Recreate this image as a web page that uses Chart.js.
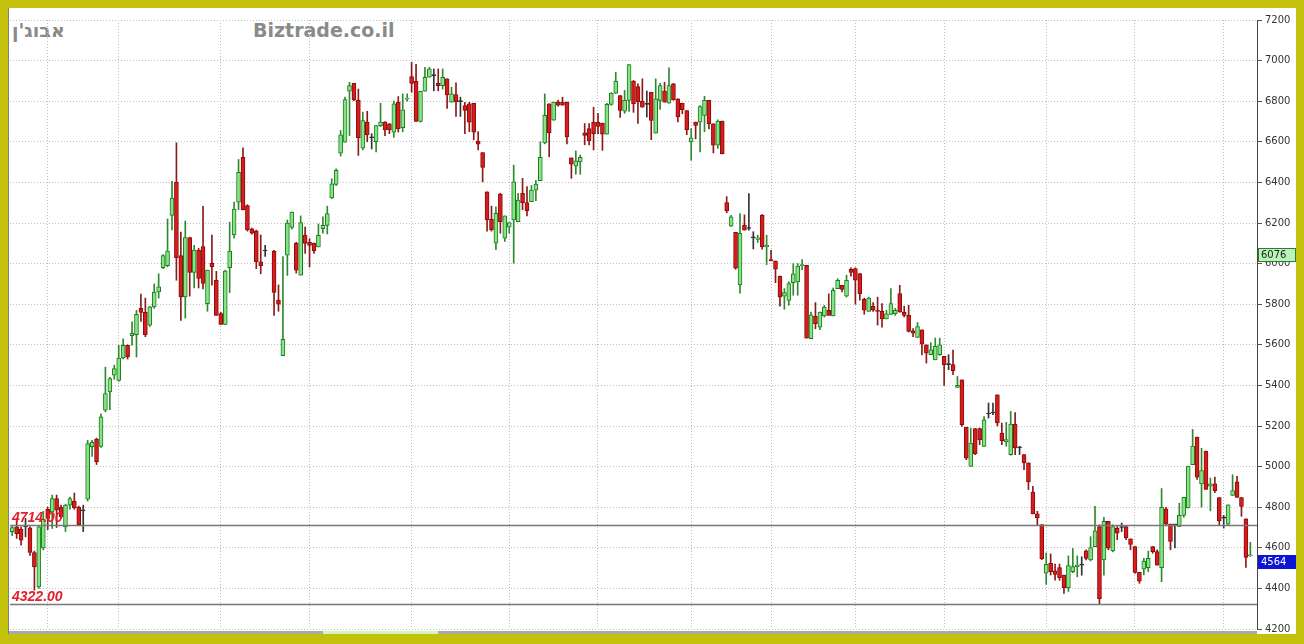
<!DOCTYPE html>
<html>
<head>
<meta charset="utf-8">
<script src="https://cdn.jsdelivr.net/npm/chart.js"></script>
<style>
  html, body { margin: 0; padding: 0; }
  body { width: 1304px; height: 644px; background: #c3c10c; position: relative; overflow: hidden; }
  #panel { position: absolute; left: 8px; top: 8px; width: 1288px; height: 626px; background: #fff; }
  #edge { position: absolute; left: 8px; top: 8px; width: 1px; height: 626px; background: #808080; }
  #scroll { position: absolute; left: 9px; top: 631px; width: 1248px; height: 3px; background: #a9a9a9; }
  #thumb { position: absolute; left: 323px; top: 631px; width: 115px; height: 3px; background: #d4f5c0; }
  canvas { position: absolute; left: 0; top: 0; }
  .title { position: absolute; top: 19px; font: bold 19px "DejaVu Sans"; line-height: 22px; color: #8a8a8a; white-space: nowrap; }
</style>
</head>
<body>
<div id="panel"></div>
<div id="edge"></div>
<div id="scroll"></div>
<div id="thumb"></div>
<div class="title" style="left:12px" dir="rtl">אבוג'ן</div>
<div class="title" style="left:253px">Biztrade.co.il</div>
<canvas id="chart" width="1304" height="644"></canvas>
<script>
// daily candles (null = empty slot)
const opens = [
  4680,4703,4692,4703,4698,4577,4407,4600,4790,4777,
  4843,4800,4703,4810,4830,4800,4782,4840,5098,5135,
  5100,5278,5368,5450,5425,5535,5598,5645,5650,5780,
  5760,5697,5787,5860,5980,5990,6237,6402,6039,5836,
  6128,5957,6067,6084,5803,6001,5918,5754,5700,5980,
  6141,6303,6524,6286,6171,6161,6009,6062,null,6062,
  5820,5547,6042,6178,6100,5943,6141,6105,6101,6082,
  6172,6188,6324,6390,6544,6598,6849,6888,6806,6569,
  6697,6620,6601,6680,6697,6688,6647,6795,6669,6810,
  6921,6898,6700,6849,6918,6926,6888,6877,6910,6795,
  6833,6798,6779,6787,6790,6604,6547,6354,6218,6101,
  6343,6125,6179,6215,6207,6346,6300,6305,6362,6408,
  6594,6787,6706,6796,6796,6796,6521,6480,6501,6644,
  6665,6697,6697,6692,6637,6784,6840,6828,6751,6804,
  6899,6872,6799,6784,6844,6643,6804,6849,6790,6885,
  6812,6790,6754,6600,6697,6697,6730,6804,6689,6583,
  6702,6300,6185,6154,5895,6190,6173,6127,6119,6239,
  6082,6020,6013,5939,5840,5819,5906,5910,5990,5992,
  5630,5740,5687,5742,5770,5742,5877,5893,5840,5972,
  5975,5951,5824,5765,5791,5770,5765,5728,5750,5753,
  5852,5761,5745,5669,5636,5674,5600,5551,5526,5551,
  5543,5502,5502,5390,5428,5193,5001,5187,5187,5100,
  5259,5264,5354,5165,5121,5059,5210,5092,5059,5018,
  4875,4767,4714,4475,4523,4486,4502,4466,4403,4482,
  4507,4515,4585,4540,4606,4705,4540,4730,4585,4697,
  4700,4705,4644,4606,4479,4495,4502,4606,4581,4502,
  4792,4717,4713,4705,4760,4796,5010,5146,4915,5076,
  4903,4915,4848,4746,4717,4858,4925,4848,4743,4560,
  null
];
const highs = [
  4710,4745,4703,4745,4703,4584,4711,4780,4800,4860,
  4860,4810,4815,4850,4870,4805,4810,5130,5130,5140,
  5260,5490,5440,5500,5598,5630,5600,5713,5770,5850,
  5830,5790,5900,5950,6045,6220,6405,6595,6155,6210,
  6130,6090,6075,6282,5968,6141,5962,5760,5968,6204,
  6303,6513,6570,6290,6175,6165,6141,6090,null,6065,
  5895,6034,6215,6254,6105,6235,6180,6123,6101,6195,
  6230,6283,6418,6467,6656,6820,6893,6888,6860,6746,
  6750,6640,6680,6790,6700,6690,6800,6823,6836,6836,
  6992,6982,6849,6967,6967,6959,6959,6959,6910,6869,
  6890,6820,6795,6795,6790,6650,6547,6354,6283,6280,
  6346,6235,6202,6485,6346,6420,6380,6385,6410,6600,
  6836,6787,6796,6805,6820,6796,6521,6555,6535,6690,
  6690,6770,6740,6692,6790,6842,6943,6828,6853,6980,
  6902,6885,6910,6850,6844,6910,6888,6893,6964,6888,
  6812,6790,6754,6665,6697,6779,6824,6804,6689,6708,
  6702,6330,6238,6154,6246,6240,6345,6157,6140,6242,
  6140,6065,6013,5939,5877,5910,6000,6000,6020,5992,
  5761,5808,5761,5794,5851,5880,5926,5893,5943,5979,
  5979,5951,5830,5835,5808,5835,5803,5770,5877,5780,
  5893,5790,5795,5680,5710,5674,5600,5610,5633,5633,
  5543,5551,5574,5444,5428,5193,5190,5187,5190,5246,
  5313,5313,5354,5215,5218,5272,5266,5100,5059,5018,
  4903,4780,4714,4575,4570,4520,4520,4466,4560,4596,
  4560,4556,4590,4655,4804,4713,4750,4730,4713,4705,
  4722,4705,4644,4606,4479,4548,4584,4606,4590,4892,
  4799,4717,4713,4820,4849,5002,5183,5146,5090,5076,
  4944,4948,4848,4760,4812,4960,4952,4848,4743,4627,
  null
];
const lows = [
  4660,4646,4613,4654,4563,4391,4400,4590,4690,4695,
  4700,4745,4680,4790,4790,4714,4680,4830,5050,5010,
  5095,5270,5280,5430,5420,5530,5530,5598,5540,5715,
  5640,5690,5780,5830,5975,5985,6166,5918,5720,5732,
  5840,5880,5880,5875,5765,5894,5745,5700,5700,5857,
  6125,6265,6265,6160,6145,5975,5950,6035,null,5745,
  5765,5547,5942,6170,5953,5943,6050,5983,6050,6082,
  6150,6146,6320,6385,6530,6598,6631,6803,6533,6560,
  6600,6565,6550,6675,6630,6640,6622,6648,6650,6800,
  6844,6700,6697,6849,6918,6851,6851,6860,6765,6795,
  6725,6725,6640,6650,6610,6560,6403,6160,6160,6069,
  6150,6109,6150,6002,6207,6265,6235,6305,6310,6408,
  6590,6526,6706,6775,6780,6590,6420,6440,6440,6585,
  6585,6560,6640,6558,6637,6780,6838,6720,6740,6750,
  6745,6690,6770,6722,6610,6643,6760,6795,6790,6805,
  6698,6738,6635,6509,6615,6550,6650,6664,6545,6567,
  6540,6250,6183,5972,5854,6165,6165,6072,6104,6071,
  5995,6013,5906,5790,5775,5795,5844,5844,5970,5633,
  5630,5679,5675,5737,5745,5742,5877,5860,5835,5938,
  5800,5820,5750,5765,5765,5697,5687,5728,5750,5745,
  5761,5737,5663,5640,5636,5550,5510,5551,5526,5548,
  5400,5477,5453,5390,5198,5034,5001,5059,5108,5100,
  5239,5256,5200,5108,5100,5056,5059,5059,4985,4887,
  4767,4714,4542,4420,4466,4440,4440,4375,4385,4478,
  4457,4465,4540,4535,4606,4325,4465,4590,4580,4640,
  4680,4640,4590,4474,4425,4466,4482,4573,4515,4433,
  4713,4590,4600,4705,4750,4796,5010,4937,4800,4887,
  4782,4871,4713,4697,4713,4858,4848,4755,4503,4558,
  null
];
const closes = [
  4700,4670,4637,4703,4577,4506,4703,4740,4745,4843,
  4785,4752,4810,4843,4797,4714,4782,5114,5119,5023,
  5245,5360,5434,5483,5535,5598,5540,5656,5750,5760,
  5650,5787,5860,5885,6040,6062,6323,6029,5836,6128,
  5957,6067,5927,5902,5968,5985,5745,5700,5963,6062,
  6268,6450,6265,6166,6150,6009,5990,6062,null,5858,
  5800,5627,6200,6254,5968,6202,6100,6090,6062,6139,
  6188,6246,6393,6459,6634,6808,6877,6806,6620,6705,
  6634,6620,6680,6697,6659,6659,6787,6664,6757,6815,
  6888,6700,6849,6918,6959,6926,6877,6918,6831,6836,
  6796,6798,6755,6697,6648,6588,6474,6215,6166,6248,
  6207,6235,6202,6403,6313,6300,6261,6362,6392,6523,
  6730,6644,6796,6780,6780,6624,6490,6506,6523,6632,
  6604,6640,6676,6637,6784,6840,6899,6754,6804,6980,
  6787,6796,6771,6784,6705,6812,6877,6795,6877,6807,
  6722,6758,6660,6620,6681,6774,6804,6689,6583,6702,
  6542,6260,6230,5977,6149,6165,6173,6127,6127,6082,
  6090,6013,5972,5835,5857,5901,5949,5988,5995,5633,
  5748,5704,5761,5786,5745,5868,5918,5873,5918,5956,
  5918,5852,5770,5830,5770,5765,5728,5753,5803,5770,
  5761,5745,5666,5657,5690,5603,5559,5575,5592,5600,
  5502,5502,5472,5400,5206,5042,5116,5062,5133,5231,
  5259,5264,5215,5128,5133,5210,5092,5092,5018,4924,
  4767,4747,4547,4518,4482,4469,4453,4403,4512,4507,
  4515,4515,4548,4601,4684,4350,4730,4598,4705,4672,
  4700,4650,4617,4479,4436,4535,4548,4581,4515,4799,
  4717,4631,4713,4760,4849,5002,5101,4948,4981,4887,
  4915,4882,4733,4746,4812,4882,4848,4804,4552,4564,
  null
];
// slots where a new month starts (vertical dotted lines)
const monthStarts = [8, 24, 47, 67, 90, 112, 132, 153, 171, 190, 210, 233, 253, 273];
// horizontal reference lines and right-axis price tags
const refLines = [4714, 4322];
const tagValues = [6076, 4564];

const labels = opens.map((_, i) => String(i + 1));
const dir = opens.map((o, i) => o == null ? 0 : Math.sign(closes[i] - o));

const bodyFill = dir.map(d => d > 0 ? '#86e486' : d < 0 ? '#d81c1c' : '#3a3a3a');
const bodyLine = dir.map(d => d > 0 ? '#1c7c1c' : d < 0 ? '#880c0c' : '#2a2a2a');
const wickCol = dir.map(d => d > 0 ? '#2f8a2f' : d < 0 ? '#8c1a1a' : '#333333');

const bodies = opens.map((o, i) => o == null ? null : [o, closes[i]]);
const wicks = opens.map((o, i) => o == null ? null :
  [Math.min(lows[i], o, closes[i]), Math.max(highs[i], o, closes[i])]);

const overlay = {
  id: 'overlay',
  afterDatasetsDraw(chart) {
    const { ctx, chartArea: a, scales: { y } } = chart;
    ctx.save();
    refLines.forEach(v => {
      const py = Math.round(y.getPixelForValue(v)) + 0.5;
      ctx.strokeStyle = '#777';
      ctx.lineWidth = 1.5;
      ctx.beginPath();
      ctx.moveTo(a.left, py);
      ctx.lineTo(a.right, py);
      ctx.stroke();
      ctx.font = 'italic bold 14px "Liberation Sans"';
      ctx.fillStyle = '#e2202c';
      ctx.textAlign = 'left';
      ctx.textBaseline = 'alphabetic';
      ctx.fillText(v.toFixed(2), a.left + 2, py - 4);
    });
    ctx.restore();
  },
  afterDraw(chart) {
    const { ctx, chartArea: a, scales: { y } } = chart;
    ctx.save();
    tagValues.forEach((v, i) => {
      const top = Math.round(y.getPixelForValue(v));
      const x0 = a.right + 1, w = 38, h = 14;
      ctx.fillStyle = i === 0 ? '#b9f5b9' : '#0c14d8';
      ctx.fillRect(x0, top, w, h);
      ctx.strokeStyle = i === 0 ? '#2d7d2d' : '#0c14d8';
      ctx.lineWidth = 1;
      ctx.strokeRect(x0 + 0.5, top + 0.5, w - 1, h - 1);
      ctx.fillStyle = i === 0 ? '#1a1a1a' : '#ffffff';
      ctx.font = '10px "DejaVu Sans"';
      ctx.textAlign = 'left';
      ctx.textBaseline = 'middle';
      ctx.fillText(String(v), x0 + 3, top + h / 2 + 0.5);
    });
    ctx.restore();
  }
};

new Chart(document.getElementById('chart'), {
  type: 'bar',
  data: {
    labels: labels,
    datasets: [{
      label: 'body',
      data: bodies,
      grouped: false,
      backgroundColor: bodyFill,
      borderColor: bodyLine,
      borderWidth: 1,
      borderSkipped: false,
      barThickness: 4,
      minBarLength: 1
    }, {
      label: 'wick',
      data: wicks,
      grouped: false,
      backgroundColor: wickCol,
      borderWidth: 0,
      barThickness: 1
    }]
  },
  options: {
    responsive: false,
    animation: false,
    devicePixelRatio: 1,
    layout: { padding: { left: 10, top: 20, right: 8, bottom: 15 } },
    plugins: {
      legend: { display: false },
      tooltip: { enabled: false }
    },
    scales: {
      x: {
        offset: true,
        afterFit: s => { s.height = 0; },
        ticks: { display: false, autoSkip: false },
        grid: {
          offset: false,
          drawTicks: false,
          color: c => monthStarts.includes(c.index) ? '#bdbdbd' : 'rgba(0,0,0,0)'
        },
        border: { display: false, dash: [1, 2] }
      },
      y: {
        position: 'right',
        min: 4200,
        max: 7200,
        afterFit: s => { s.width = 39; },
        ticks: {
          stepSize: 200,
          color: '#333',
          padding: 3,
          font: { family: 'DejaVu Sans', size: 10 },
          callback: v => String(v)
        },
        grid: { color: '#c2c2c2', tickColor: '#555', tickLength: 5 },
        border: { display: true, color: '#444', dash: [1, 2] }
      }
    }
  },
  plugins: [overlay]
});
</script>
</body>
</html>
